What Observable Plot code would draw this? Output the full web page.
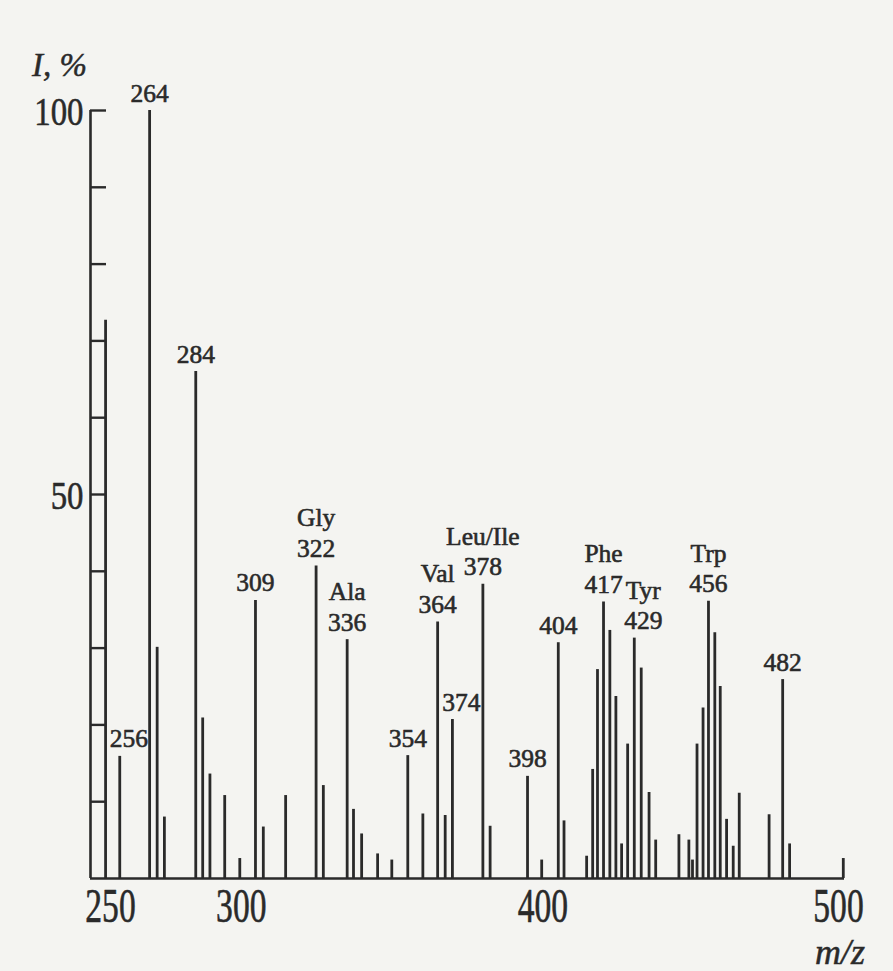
<!DOCTYPE html>
<html><head><meta charset="utf-8">
<script src="https://cdn.jsdelivr.net/npm/d3@7"></script>
<script src="https://cdn.jsdelivr.net/npm/@observablehq/plot@0.6"></script>
<style>
html,body{margin:0;padding:0;background:#f4f4f1;}
#chart{width:893px;height:971px;}
</style></head><body><div id="chart"></div>
<script>
// Peak positions (m/z, as drawn) and relative intensities (I, %)
const mz = [255.0, 259.7, 269.6, 272.1, 274.5, 284.9, 287.2, 289.6, 294.5, 299.5,
  304.7, 307.3, 314.7, 324.8, 327.2, 335.1, 337.2, 339.9, 345.2, 349.9,
  355.2, 360.2, 365.1, 367.6, 370.0, 380.1, 382.5, 394.9, 399.6, 405.1,
  407.0, 414.5, 416.5, 418.1, 420.1, 422.2, 424.2, 426.1, 428.1, 430.3,
  432.6, 435.2, 437.4, 445.1, 448.4, 449.6, 451.1, 453.1, 454.9, 457.0,
  458.8, 460.9, 463.1, 465.1, 475.0, 479.5, 481.8, 499.6];
const intensity = [72.7, 15.9, 100, 30.1, 8.0, 66.0, 20.9, 13.6, 10.8, 2.6,
  36.2, 6.7, 10.8, 40.7, 12.1, 31.1, 9.0, 5.8, 3.2, 2.4,
  16.0, 8.4, 33.4, 8.2, 20.7, 38.3, 6.8, 13.3, 2.4, 30.7,
  7.5, 2.9, 14.2, 27.2, 36.0, 32.3, 23.7, 4.5, 17.5, 31.3,
  27.4, 11.2, 5.0, 5.7, 5.0, 2.4, 17.5, 22.2, 36.1, 32.0,
  25.0, 7.7, 4.2, 11.1, 8.3, 25.9, 4.5, 2.6];

// Peak annotations
const labelTexts = ["256", "264", "284", "309", "Gly\n322", "Ala\n336", "354", "Val\n364",
  "374", "Leu/Ile\n378", "398", "404", "Phe\n417", "Tyr\n429", "Trp\n456", "482"];
const labelPeaks = [259.7, 269.6, 284.9, 304.7, 324.8, 335.1, 355.2, 365.1,
  370.0, 380.1, 394.9, 405.1, 420.1, 430.3, 454.9, 479.5];
const sideLabels = ["256", "374", "Tyr\n429"]; // placed slightly right of their peak

// Axes
const xTicks = [250, 300, 400, 500];
const yTicks = [10, 20, 30, 40, 50, 60, 70, 80, 90, 100];
const yTickLabels = [50, 100];
const yTitle = "I, %";
const xTitle = "m/z";

const peaks = mz.map((m, i) => ({mz: m, I: intensity[i]}));
const labels = labelTexts.map((t, i) => ({text: t, mz: labelPeaks[i], I: intensity[mz.indexOf(labelPeaks[i])]}));
const labelsCentered = labels.filter(d => !sideLabels.includes(d.text));
const labelsSide = labels.filter(d => sideLabels.includes(d.text));

const ink = "#2a2a2a";
const thick = {stroke: ink, strokeWidth: 0.6};
const labelFont = {fontSize: 25.5, lineHeight: 1.2, fill: ink, ...thick, textAnchor: "middle", lineAnchor: "bottom", dy: -9};
const xLabFont = {textAnchor: "middle", lineAnchor: "top", dy: 9, fontSize: 48, fill: ink, ...thick};

const plot = Plot.plot({
  width: 893, height: 971,
  marginLeft: 90, marginRight: 49, marginTop: 110, marginBottom: 93,
  style: {fontFamily: "'Liberation Serif', 'Times New Roman', serif", background: "transparent", color: ink},
  x: {domain: [250, 500], axis: null},
  y: {domain: [0, 100], axis: null},
  marks: [
    Plot.ruleX(peaks, {x: "mz", y1: 0, y2: "I", stroke: ink, strokeWidth: 2.8}),
    Plot.ruleY([0], {stroke: ink, strokeWidth: 2.6}),
    Plot.ruleX([250], {y1: 0, y2: 100, stroke: ink, strokeWidth: 2.6}),
    Plot.axisY(yTicks, {anchor: "left", tickSize: -16, tickFormat: () => "", label: null, stroke: ink, strokeWidth: 2.4}),
    Plot.text(yTickLabels, {x: 250, y: d => d, text: d => String(d), textAnchor: "end", dx: -7, dy: 1, fontSize: 41, fill: ink, ...thick}),
    Plot.text(xTicks.filter(d => d !== 250 && d !== 500), {x: d => d, y: 0, text: d => String(d), ...xLabFont}),
    Plot.text(xTicks.filter(d => d === 250), {x: d => d, y: 0, text: d => String(d), ...xLabFont, dx: 20}),
    Plot.text(xTicks.filter(d => d === 500), {x: d => d, y: 0, text: d => String(d), ...xLabFont, dx: -6}),
    Plot.text(labelsCentered, {x: "mz", y: "I", text: "text", ...labelFont}),
    Plot.text(labelsSide, {x: "mz", y: "I", text: "text", ...labelFont, dx: 9})
  ]
});
document.getElementById("chart").appendChild(plot);

const svg = d3.select(plot);
// condensed look of the axis numerals
function condense(sel, s) {
  sel.each(function () {
    const b = this.getBBox();
    let anchor = null, n = this;
    while (n && n.getAttribute && !(anchor = n.getAttribute("text-anchor"))) n = n.parentNode;
    anchor = anchor || "start";
    const ax = anchor === "end" ? b.x + b.width : anchor === "middle" ? b.x + b.width / 2 : b.x;
    const t = this.getAttribute("transform") || "";
    this.setAttribute("transform", `${t} translate(${ax},0) scale(${s},1) translate(${-ax},0)`);
  });
}
condense(svg.selectAll("g[font-size='48'] text"), 0.7);
condense(svg.selectAll("g[font-size='41'] text"), 0.8);

// axis titles
svg.append("text").attr("x", 32).attr("y", 76).attr("text-anchor", "start").attr("font-size", 33)
  .attr("font-style", "italic").attr("fill", ink).attr("stroke", ink).attr("stroke-width", 0.5).text(yTitle);
svg.append("text").attr("x", 865).attr("y", 964).attr("text-anchor", "end").attr("font-size", 36)
  .attr("font-style", "italic").attr("fill", ink).attr("stroke", ink).attr("stroke-width", 0.5).text(xTitle);
</script>
</body></html>
